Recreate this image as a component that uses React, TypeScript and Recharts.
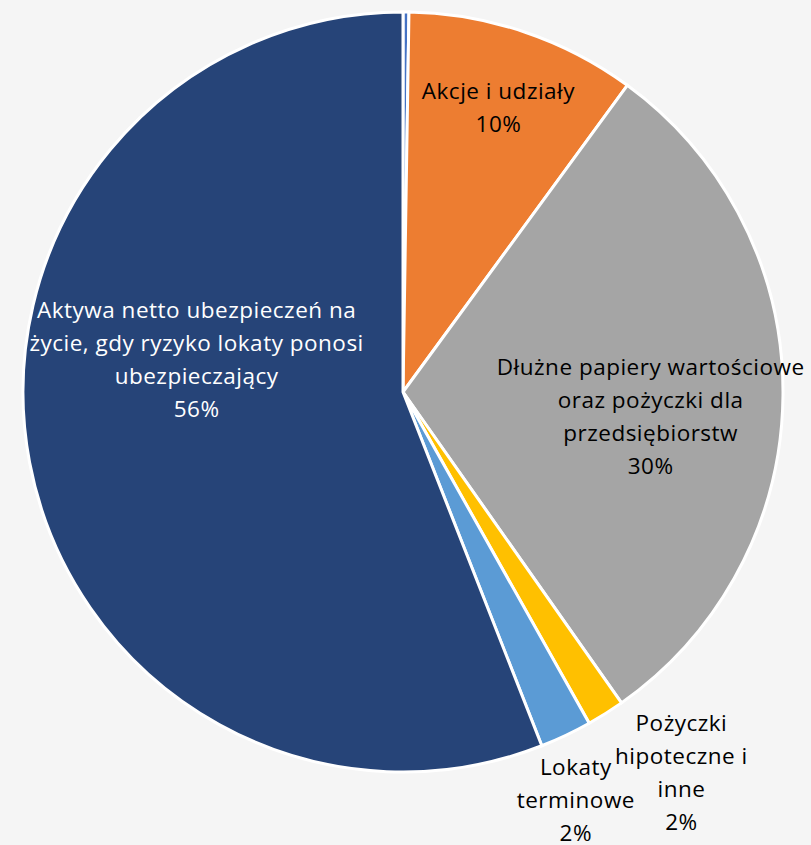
import { PieChart, Pie, Cell } from "recharts";

// categories in drawing order, clockwise from 12 o'clock
const categories = [
  "Pozostałe",
  "Akcje i udziały",
  "Dłużne papiery wartościowe oraz pożyczki dla przedsiębiorstw",
  "Pożyczki hipoteczne i inne",
  "Lokaty terminowe",
  "Aktywa netto ubezpieczeń na życie, gdy ryzyko lokaty ponosi ubezpieczający",
];
const shares = [0.25, 9.8, 30.2, 1.6, 2.2, 55.95];
const labelLines = [
  [],
  ["Akcje i udziały"],
  ["Dłużne papiery wartościowe", "oraz pożyczki dla", "przedsiębiorstw"],
  ["Pożyczki", "hipoteczne i", "inne"],
  ["Lokaty", "terminowe"],
  ["Aktywa netto ubezpieczeń na", "życie, gdy ryzyko lokaty ponosi", "ubezpieczający"],
];
const colors = ["#4472C4", "#ED7D31", "#A5A5A5", "#FFC000", "#5B9BD5", "#264478"];
const textColors = ["#000", "#000", "#000", "#000", "#000", "#fff"];

// label placement: [radius fraction, clockwise shift from slice middle in degrees]
const placement: [number, number][] = [
  [0, 0],
  [0.79, 0],
  [0.655, 5.2],
  [1.24, -4],
  [1.165, 2.4],
  [0.55, 19.8],
];

const data = categories.map((name, i) => ({ name, value: shares[i] }));

const FONT = 22.5;
const LINE = 33;

function renderLabel(props: any) {
  const { cx, cy, midAngle, outerRadius, percent, index } = props;
  const lines = labelLines[index];
  if (!lines || lines.length === 0) return null;
  const [rf, shift] = placement[index];
  const a = ((midAngle - shift) * Math.PI) / 180;
  const x = cx + outerRadius * rf * Math.cos(a);
  const y = cy - outerRadius * rf * Math.sin(a);
  const all = [...lines, `${Math.round(percent * 100)}%`];
  const top = y - ((all.length - 1) / 2) * LINE + FONT * 0.36;
  return (
    <text
      key={`lbl-${index}`}
      x={x}
      y={top}
      textAnchor="middle"
      fill={textColors[index]}
      fontSize={FONT}
      letterSpacing={0.5}
      fontFamily="'Open Sans', sans-serif"
    >
      {all.map((t, k) => (
        <tspan key={k} x={x} y={top + k * LINE}>
          {t}
        </tspan>
      ))}
    </text>
  );
}

export default function App() {
  return (
    <div style={{ width: 811, height: 845, background: "#f5f5f5" }}>
      <style>{`body{margin:0}`}</style>
      <PieChart width={811} height={845} margin={{ top: 0, right: 0, bottom: 0, left: 0 }}>
        <Pie
          data={data}
          dataKey="value"
          nameKey="name"
          cx={403}
          cy={392}
          outerRadius={380}
          startAngle={90}
          endAngle={-270}
          stroke="#ffffff"
          strokeWidth={3}
          label={renderLabel}
          labelLine={false}
          isAnimationActive={false}
        >
          {data.map((entry, index) => (
            <Cell key={`cell-${index}`} fill={colors[index]} />
          ))}
        </Pie>
      </PieChart>
    </div>
  );
}
